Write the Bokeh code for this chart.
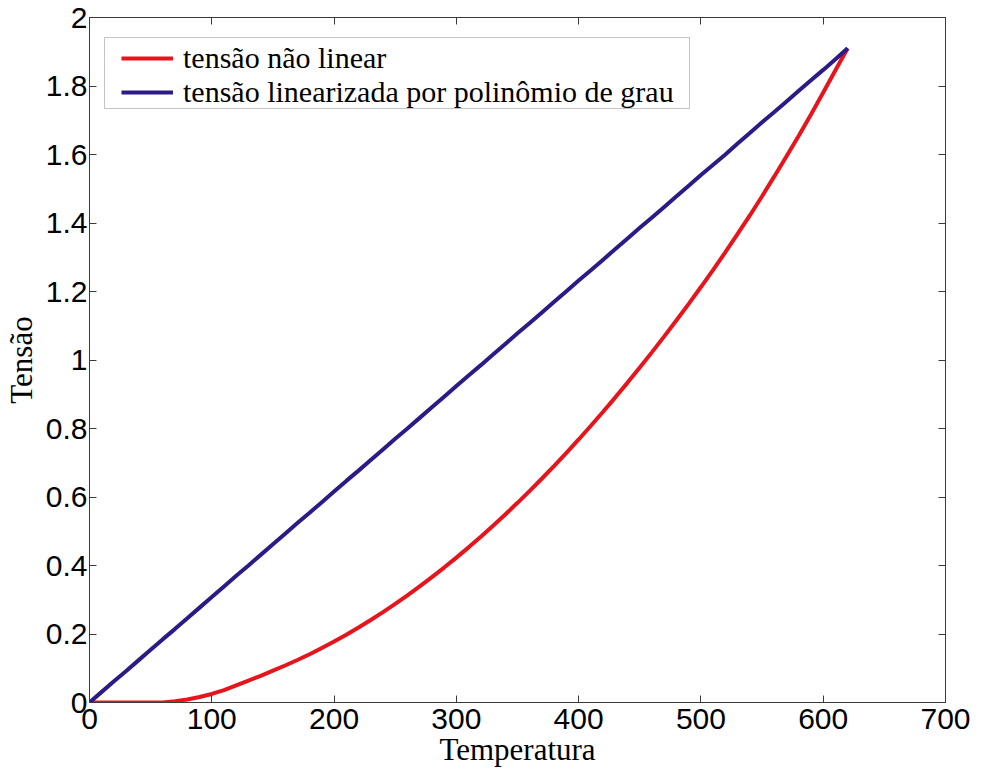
from bokeh.plotting import figure
from bokeh.models import (Range1d, LinearAxis, FixedTicker, Legend, LegendItem,
                          CustomLabelingPolicy, BoxAnnotation)
from bokeh.embed import file_html
from bokeh.resources import INLINE

# Temperature samples (step 10) and the two voltage curves
temperatura = list(range(0, 630, 10))

tensao_nao_linear = [
    0, 0, 0, 0, 0, 0, 0, 0.004, 0.009, 0.016,
    0.025, 0.036, 0.05, 0.064, 0.078, 0.093, 0.108, 0.124, 0.141, 0.159,
    0.178, 0.198, 0.219, 0.241, 0.264, 0.288, 0.313, 0.339, 0.366, 0.394,
    0.423, 0.453, 0.484, 0.516, 0.549, 0.583, 0.618, 0.654, 0.691, 0.729,
    0.768, 0.808, 0.849, 0.891, 0.934, 0.978, 1.023, 1.069, 1.116, 1.164,
    1.213, 1.263, 1.315, 1.368, 1.422, 1.478, 1.536, 1.595, 1.655, 1.717,
    1.781, 1.846, 1.91,
]

tensao_linearizada = [
    0, 0.031, 0.062, 0.092, 0.123, 0.154, 0.185, 0.215, 0.246, 0.277,
    0.308, 0.339, 0.37, 0.40, 0.431, 0.462, 0.493, 0.524, 0.554, 0.585,
    0.616, 0.647, 0.677, 0.708, 0.739, 0.77, 0.80, 0.831, 0.862, 0.893,
    0.924, 0.955, 0.985, 1.016, 1.047, 1.078, 1.108, 1.139, 1.17, 1.201,
    1.232, 1.262, 1.293, 1.324, 1.355, 1.386, 1.416, 1.447, 1.478, 1.509,
    1.54, 1.57, 1.60, 1.632, 1.663, 1.694, 1.724, 1.755, 1.786, 1.817,
    1.847, 1.878, 1.91,
]

x_ticks = [0, 100, 200, 300, 400, 500, 600, 700]
y_ticks = [0, 0.2, 0.4, 0.6, 0.8, 1.0, 1.2, 1.4, 1.6, 1.8, 2.0]
y_tick_labels = ["0", "0.2", "0.4", "0.6", "0.8", "1", "1.2", "1.4", "1.6", "1.8", "2"]

legend_labels = ["tensão não linear", "tensão linearizada por polinômio de grau"]

RED = "#e8141c"
BLUE = "#2c1a86"
AXIS_COLOR = "#3a3a3a"
SANS = "Liberation Sans"
SERIF = "Liberation Serif"

p = figure(
    width=995, height=783,
    x_range=Range1d(0, 700), y_range=Range1d(0, 2),
    output_backend="svg", toolbar_location=None,
    x_axis_label="Temperatura", y_axis_label="Tensão",
    min_border_left=88, min_border_right=50,
    min_border_top=17, min_border_bottom=81,
)
p.background_fill_color = "white"
p.border_fill_color = "white"
p.xgrid.visible = False
p.ygrid.visible = False
p.outline_line_color = AXIS_COLOR
p.outline_line_width = 1

r_red = p.line(temperatura, tensao_nao_linear, line_color=RED, line_width=4)
r_blue = p.line(temperatura, tensao_linearizada, line_color=BLUE, line_width=4)

ytick_overrides = {t: s for t, s in zip(y_ticks, y_tick_labels)}

for ax in p.xaxis:
    ax.ticker = FixedTicker(ticks=x_ticks)
for ax in p.yaxis:
    ax.ticker = FixedTicker(ticks=y_ticks)
    ax.major_label_overrides = ytick_overrides

for ax in p.axis:
    ax.axis_line_color = AXIS_COLOR
    ax.major_tick_line_color = AXIS_COLOR
    ax.major_tick_in = 7
    ax.major_tick_out = 0
    ax.minor_tick_line_color = None
    ax.major_label_text_font = SANS
    ax.major_label_text_font_size = "30px"
    ax.major_label_text_color = "black"
    ax.axis_label_text_font = SERIF
    ax.axis_label_text_font_size = "31px"
    ax.axis_label_text_font_style = "normal"
    ax.axis_label_text_color = "black"

p.xaxis.major_label_standoff = 6
p.xaxis.axis_label_standoff = 0
p.yaxis.major_label_standoff = 2
p.yaxis.axis_label_standoff = 4

# Box around the axes: mirrored tick marks on top and right, labels suppressed
no_labels = CustomLabelingPolicy(code="return []")
top = LinearAxis(ticker=FixedTicker(ticks=x_ticks), major_label_policy=no_labels)
right = LinearAxis(ticker=FixedTicker(ticks=y_ticks), major_label_policy=no_labels)
for ax in (top, right):
    ax.axis_line_color = AXIS_COLOR
    ax.major_tick_line_color = AXIS_COLOR
    ax.major_tick_in = 7
    ax.major_tick_out = 0
    ax.minor_tick_line_color = None
    ax.major_label_standoff = 0
p.add_layout(top, "above")
p.add_layout(right, "right")

# Legend frame (screen units, measured from the plot area's bottom-left)
legend_frame = BoxAnnotation(
    left=15, right=600, bottom=594, top=665,
    left_units="screen", right_units="screen",
    bottom_units="screen", top_units="screen",
    fill_color="white", fill_alpha=1,
    line_color=AXIS_COLOR, line_width=1,
)
p.add_layout(legend_frame)

# Legend entries drawn tight inside the frame above
legend = Legend(
    items=[
        LegendItem(label=legend_labels[0], renderers=[r_red]),
        LegendItem(label=legend_labels[1], renderers=[r_blue]),
    ],
    location=(32, 593),
    label_text_font=SERIF,
    label_text_font_size="30px",
    label_text_color="black",
    glyph_width=52,
    glyph_height=20,
    label_standoff=10,
    padding=0,
    spacing=0,
    margin=0,
    border_line_color=None,
    background_fill_alpha=0,
)
p.add_layout(legend)

open("out.html", "w").write(file_html(p, INLINE))
